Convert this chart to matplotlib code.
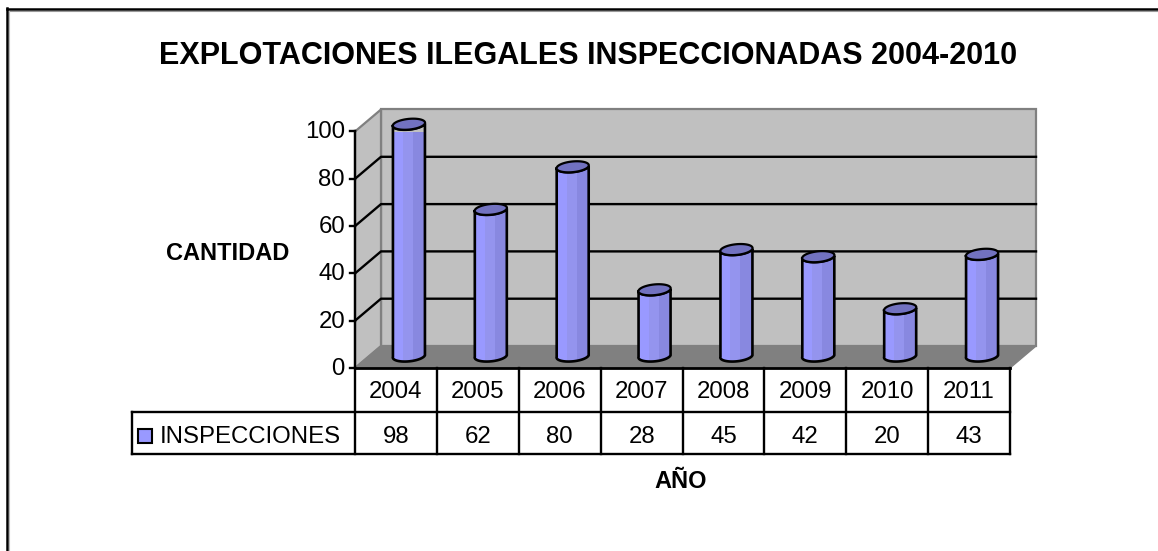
"""Explotaciones ilegales inspeccionadas, columnas cilindricas con tabla de datos"""
import numpy as np
from matplotlib import pyplot as plt
from matplotlib.patches import Polygon, Rectangle

years = ["2004", "2005", "2006", "2007", "2008", "2009", "2010", "2011"]
inspecciones = [98, 62, 80, 28, 45, 42, 20, 43]
y_ticks = [0, 20, 40, 60, 80, 100]

W, H = 1158, 551
LEFT, RIGHT, BOTTOM, TOP = 355, 1010, 368, 131.5

plt.rcParams["font.family"] = ["Liberation Sans", "DejaVu Sans"]

fig = plt.figure(figsize=(W / 100, H / 100), dpi=100)
ax = fig.add_axes([LEFT / W, 1 - BOTTOM / H, (RIGHT - LEFT) / W, (BOTTOM - TOP) / H])
ax.set_xlim(0, len(years))
ax.set_ylim(0, 100)
ax.axis("off")

# cuanto mide un pixel en unidades de datos
px_x = len(years) / (RIGHT - LEFT)
px_y = 100 / (BOTTOM - TOP)
dx = 26 * px_x
dy = 22 * px_y

WALL = "#c0c0c0"
FLOOR = "#808080"
EDGE = "#808080"
FS = 17.3
LW = 1.7
n = len(years)

# paredes y piso
ax.add_patch(Polygon([(dx, dy), (n + dx, dy), (n + dx, 100 + dy), (dx, 100 + dy)],
                     fc=WALL, ec=EDGE, lw=1.6, clip_on=False, zorder=1))
ax.add_patch(Polygon([(0, 0), (dx, dy), (dx, 100 + dy), (0, 100)],
                     fc=WALL, ec=EDGE, lw=1.6, clip_on=False, zorder=1))
ax.add_patch(Polygon([(0, 0), (n, 0), (n + dx, dy), (dx, dy)],
                     fc=FLOOR, ec=EDGE, lw=1, clip_on=False, zorder=1))

# grilla
for t in y_ticks[1:-1]:
    ax.plot([0, dx, n + dx], [t, t + dy, t + dy], color="black", lw=LW, clip_on=False, zorder=2)

# eje y
ax.plot([0, 0], [0, 100], color="black", lw=LW, clip_on=False, zorder=5)
for t in y_ticks:
    ax.plot([-5 * px_x, 0], [t, t], color="black", lw=LW, clip_on=False, zorder=5)
    ax.text(-10 * px_x, t - 1 * px_y, str(t), ha="right", va="center", fontsize=FS, color="black")


def cylinder_edge(cx, cy, ts):
    """Elipse inclinada de la base o tapa de la columna"""
    xs = cx + 16 * px_x * np.cos(ts) + 2 * px_x * np.sin(ts)
    ys = cy + 0.8 * px_y * np.cos(ts) + 5.5 * px_y * np.sin(ts)
    return np.column_stack([xs, ys])


BANDS = [(-17, -6, "#9999ff"), (-6, 4, "#9494ee"), (4, 17, "#8888e0")]
base_y = 12 * px_y
for i, v in enumerate(inspecciones):
    cx = i + 0.5 + dx / 2
    top_y = base_y + v
    front = np.linspace(np.pi, 2 * np.pi, 40)
    body_pts = np.vstack([cylinder_edge(cx, base_y, front),
                          cylinder_edge(cx, top_y, front[::-1])])
    body = Polygon(body_pts, fc="none", ec="black", lw=1.9, clip_on=False, zorder=4)
    ax.add_patch(body)
    for b0, b1, col in BANDS:
        r = Rectangle((cx + b0 * px_x, 0), (b1 - b0) * px_x, top_y + 5, fc=col, ec="none", zorder=3)
        ax.add_patch(r)
        r.set_clip_path(body)
    ax.add_patch(Polygon(cylinder_edge(cx, top_y, np.linspace(0, 2 * np.pi, 60)),
                         fc="#7272c0", ec="black", lw=1.6, clip_on=False, zorder=4))

# tabla de datos
row1 = 43.5 * px_y
row2 = 85.5 * px_y
text1 = 24 * px_y
text2 = 69 * px_y
legend_x = -223 * px_x
ax.plot([0, n], [0, 0], color="black", lw=2, clip_on=False, zorder=5)
ax.plot([legend_x, n], [-row1, -row1], color="black", lw=LW, clip_on=False, zorder=5)
ax.plot([legend_x, n], [-row2, -row2], color="black", lw=LW, clip_on=False, zorder=5)
ax.plot([legend_x, legend_x], [-row1, -row2], color="black", lw=LW, clip_on=False, zorder=5)
for k in range(n + 1):
    ax.plot([k, k], [0, -row2], color="black", lw=LW, clip_on=False, zorder=5)
for i, (yr, v) in enumerate(zip(years, inspecciones)):
    ax.text(i + 0.5, -text1, yr, ha="center", va="center", fontsize=FS, color="black")
    ax.text(i + 0.5, -text2, str(v), ha="center", va="center", fontsize=FS, color="black")
ax.text(-195 * px_x, -text2, "INSPECCIONES", ha="left", va="center", fontsize=FS, color="black")
ax.add_patch(Rectangle((-217 * px_x, -68 * px_y - 7 * px_y), 14 * px_x, 14 * px_y,
                       fc="#9999ff", ec="black", lw=1.5, clip_on=False, zorder=5))

# textos
fig.text(588 / W, 1 - 56 / H, "EXPLOTACIONES ILEGALES INSPECCIONADAS 2004-2010",
         ha="center", va="center", fontsize=22, fontweight="bold", color="black")
fig.text(228 / W, 1 - 254 / H, "CANTIDAD", ha="center", va="center",
         fontsize=17, fontweight="bold", color="black")
fig.text(681 / W, 1 - 482 / H, "AÑO", ha="center", va="center",
         fontsize=17, fontweight="bold", color="black")

# marco del grafico: solo se ve arriba y a la izquierda
for xs, ys, col, lw in [
    ([7.5, W], [8.5, 8.5], "black", 1.8),
    ([7, 7], [8, H], "black", 1.8),
    ([9, W], [10.5, 10.5], "#999999", 0.8),
    ([9, 9], [10.5, H], "#bbbbbb", 0.8),
]:
    fig.add_artist(plt.Line2D([x / W for x in xs], [1 - y / H for y in ys], color=col, lw=lw))

fig.savefig("out.png", dpi=100)
